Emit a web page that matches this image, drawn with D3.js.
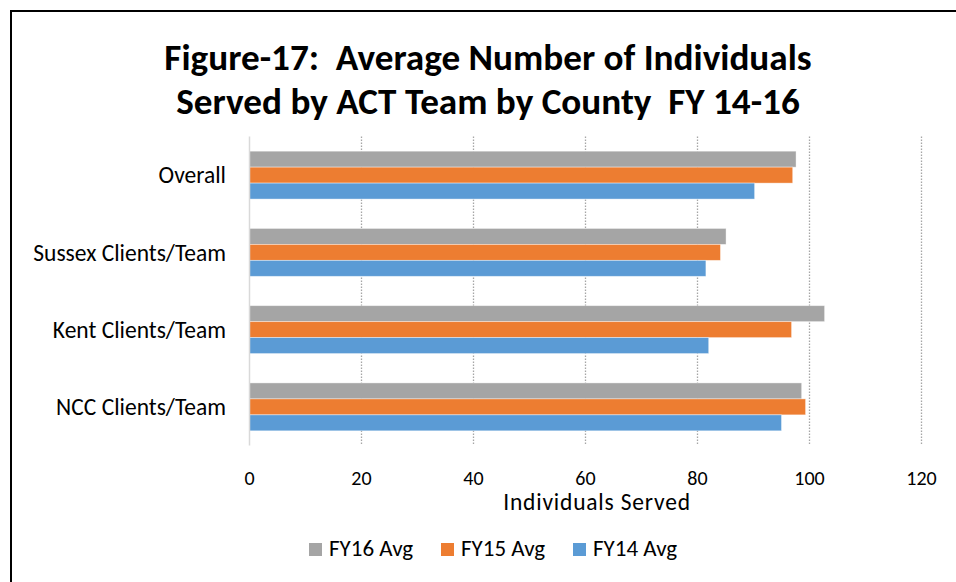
<!DOCTYPE html>
<html>
<head>
<meta charset="utf-8">
<script src="https://cdn.jsdelivr.net/npm/d3@7"></script>
<style>
	body{margin:0;background:#fff;}
	svg text{font-family:Carlito,Calibri,Lato,"Open Sans",sans-serif;fill:#000;white-space:pre;}
</style>
</head>
<body>
<div id="chart"></div>
<script>
// data
var categories=["Overall","Sussex Clients/Team","Kent Clients/Team","NCC Clients/Team"];
var seriesNames=["FY16 Avg","FY15 Avg","FY14 Avg"];
var fy16=[97.6,85.1,102.7,98.6];
var fy15=[97.0,84.1,96.8,99.3];
var fy14=[90.2,81.5,82.0,95.0];
var xTicks=[0,20,40,60,80,100,120];
var colors=["#a5a5a5","#ed7d31","#5b9bd5"];

var W=956,H=582;
var plotL=249.5,plotR=921.5,plotT=136.5,plotB=445.5;

var svg=d3.select("#chart").append("svg").attr("width",W).attr("height",H);

// outer frame
svg.append("rect").attr("x",11).attr("y",11).attr("width",W+10).attr("height",H+10)
	.attr("fill","none").attr("stroke","#000").attr("stroke-width",2);

// title
var title=svg.append("text").attr("text-anchor","middle").attr("font-weight","bold").attr("font-size",37.2);
title.append("tspan").attr("x",488).attr("y",70).text("Figure-17:  Average Number of Individuals");
title.append("tspan").attr("x",488).attr("y",114).text("Served by ACT Team by County  FY 14-16");

var x=d3.scaleLinear().domain([0,120]).range([plotL,plotR]);
var y=d3.scaleBand().domain(categories).range([plotT,plotB]).paddingInner(0.38).paddingOuter(0.19);
var ySub=d3.scaleBand().domain(seriesNames).range([0,y.bandwidth()]);

// gridlines
svg.append("g").selectAll("line").data(xTicks.slice(1)).enter().append("line")
	.attr("x1",function(d){return x(d);}).attr("x2",function(d){return x(d);})
	.attr("y1",plotT).attr("y2",plotB)
	.attr("stroke","#a6a6a6").attr("stroke-width",1.3).attr("stroke-dasharray","1.5,1.5");

// bars
var series=[fy16,fy15,fy14];
var groups=svg.append("g").selectAll("g").data(series).enter().append("g")
	.attr("fill",function(d,i){return colors[i];});
groups.each(function(vals,si){
	d3.select(this).selectAll("rect").data(vals).enter().append("rect")
		.attr("x",x(0))
		.attr("y",function(d,i){return y(categories[i])+ySub(seriesNames[si]);})
		.attr("width",function(d){return x(d)-x(0);})
		.attr("height",ySub.bandwidth())
		.attr("stroke","#fff").attr("stroke-opacity",0.5).attr("stroke-width",0.8);
});

// vertical axis line
svg.append("line").attr("x1",plotL).attr("x2",plotL).attr("y1",plotT).attr("y2",plotB)
	.attr("stroke","#d9d9d9").attr("stroke-width",1.5);

// category labels
svg.append("g").selectAll("text").data(categories).enter().append("text")
	.attr("x",226).attr("y",function(d){return y(d)+y.bandwidth()/2;})
	.attr("dy","0.35em").attr("text-anchor","end").attr("font-size",23.5)
	.text(function(d){return d;});

// x tick labels
svg.append("g").selectAll("text").data(xTicks).enter().append("text")
	.attr("x",function(d){return x(d);}).attr("y",484.5)
	.attr("text-anchor","middle").attr("font-size",20)
	.text(function(d){return d;});

// axis title
svg.append("text").attr("x",597).attr("y",510)
	.attr("text-anchor","middle").attr("font-size",23.5).attr("letter-spacing",0.8)
	.text("Individuals Served");

// legend
var legX=[309,441,573];
var leg=svg.append("g").selectAll("g").data(seriesNames).enter().append("g")
	.attr("transform",function(d,i){return "translate("+legX[i]+",543)";});
leg.append("rect").attr("width",13).attr("height",13)
	.attr("fill",function(d,i){return colors[i];});
leg.append("text").attr("x",20).attr("y",13).attr("font-size",23)
	.text(function(d){return d;});
</script>
</body>
</html>
